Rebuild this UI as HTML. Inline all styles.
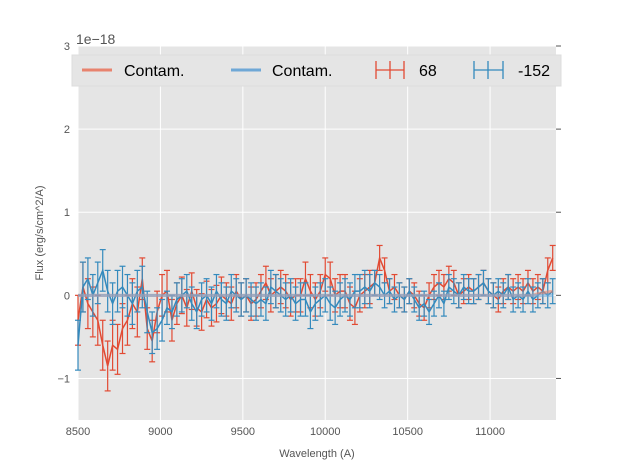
<!DOCTYPE html>
<html><head><meta charset="utf-8"><style>
body{margin:0;background:#fff;}
svg{display:block;font-family:"Liberation Sans",sans-serif;}
</style></head><body>
<svg id="chart" width="617" height="467">
<rect x="78" y="46" width="478" height="374" fill="#e5e5e5"/>
<g id="grid"></g><g id="ticks"></g><g id="series"></g>
<text x="76" y="44" font-size="14" fill="#555">1e−18</text>
<text x="317" y="457" font-size="11" fill="#555" text-anchor="middle">Wavelength (A)</text>
<text transform="translate(43,233) rotate(-90)" font-size="11" fill="#555" text-anchor="middle">Flux (erg/s/cm^2/A)</text>
<g>
<rect x="72" y="55" width="489" height="31" fill="#e5e5e5" stroke="#ddd"/>
<g><line x1="82" y1="70" x2="112" y2="70" stroke="#E8836E" stroke-width="3"/><text x="124" y="76" font-size="16" fill="#000">Contam.</text></g>
<g><line x1="231" y1="70" x2="261" y2="70" stroke="#6FA8D6" stroke-width="3"/><text x="272" y="76" font-size="16" fill="#000">Contam.</text></g>
<g stroke="#E24A33" stroke-width="1.3"><line x1="376" y1="70" x2="404" y2="70"/><line x1="390" y1="61" x2="390" y2="79"/><line x1="376" y1="61" x2="376" y2="79"/><line x1="404" y1="61" x2="404" y2="79"/><text x="419" y="76" font-size="16" fill="#000" stroke="none">68</text></g>
<g stroke="#348ABD" stroke-width="1.3"><line x1="474" y1="70" x2="503" y2="70"/><line x1="488" y1="61" x2="488" y2="79"/><line x1="474" y1="61" x2="474" y2="79"/><line x1="503" y1="61" x2="503" y2="79"/><text x="518" y="76" font-size="16" fill="#000" stroke="none">-152</text></g>
</g>
</svg>
<script>
const waves=[8500,8530,8560,8590,8620,8650,8680,8710,8740,8770,8800,8830,8860,8890,8920,8950,8980,9010,9040,9070,9100,9130,9160,9190,9220,9250,9280,9310,9340,9370,9400,9430,9460,9490,9520,9550,9580,9610,9640,9670,9700,9730,9760,9790,9820,9850,9880,9910,9940,9970,10000,10030,10060,10090,10120,10150,10180,10210,10240,10270,10300,10330,10360,10390,10420,10450,10480,10510,10540,10570,10600,10630,10660,10690,10720,10750,10780,10810,10840,10870,10900,10930,10960,10990,11020,11050,11080,11110,11140,11170,11200,11230,11260,11290,11320,11350,11380];
const red=[-0.3,0.1,-0.1,-0.2,-0.3,-0.6,-0.85,-0.6,-0.65,-0.4,-0.3,-0.1,-0.2,0.2,-0.4,-0.55,-0.2,0.0,0.05,-0.3,-0.1,0.0,-0.15,0.05,-0.15,-0.2,-0.05,-0.15,-0.1,0.0,-0.05,-0.1,0.05,-0.05,0.0,-0.1,-0.05,0.05,0.15,0.0,0.05,0.1,0.05,-0.05,0.0,0.0,0.2,0.05,-0.05,0.05,0.25,0.2,0.0,0.05,0.05,-0.1,-0.15,0.0,0.05,0.1,0.15,0.45,0.3,0.05,0.1,0.0,-0.05,0.05,0.0,-0.1,-0.15,0.0,0.1,0.15,0.1,0.2,0.15,0.0,0.05,0.1,0.05,0.1,0.15,0.05,0.0,-0.05,0.05,0.1,0.05,0.1,0.05,0.15,0.05,0.1,0.05,0.3,0.45];
const redErr=[0.3,0.3,0.3,0.3,0.3,0.3,0.3,0.3,0.3,0.3,0.3,0.3,0.3,0.25,0.25,0.25,0.25,0.25,0.25,0.25,0.25,0.22,0.22,0.22,0.22,0.22,0.22,0.22,0.22,0.22,0.2,0.2,0.2,0.2,0.2,0.2,0.2,0.2,0.2,0.2,0.2,0.2,0.2,0.2,0.2,0.2,0.2,0.2,0.2,0.2,0.2,0.2,0.2,0.2,0.2,0.2,0.2,0.2,0.2,0.2,0.15,0.15,0.15,0.15,0.15,0.15,0.15,0.15,0.15,0.15,0.15,0.15,0.15,0.15,0.15,0.15,0.15,0.15,0.15,0.15,0.15,0.15,0.15,0.15,0.15,0.15,0.15,0.15,0.15,0.15,0.15,0.15,0.15,0.15,0.15,0.15,0.15];
const blue=[-0.6,0.1,0.2,0.0,0.15,0.3,0.05,-0.1,0.05,0.1,0.0,-0.1,0.05,0.1,-0.2,-0.45,-0.4,-0.3,-0.15,-0.2,-0.05,0.0,0.05,-0.1,-0.2,-0.05,0.0,-0.1,0.05,-0.05,-0.1,0.05,0.0,-0.05,0.0,-0.05,-0.1,-0.05,-0.1,0.1,0.05,0.0,-0.05,0.0,-0.1,-0.05,-0.05,-0.2,-0.1,-0.05,0.0,-0.1,-0.15,-0.05,0.0,-0.05,0.05,0.05,0.1,0.05,0.15,0.1,0.0,0.05,-0.05,0.0,-0.05,0.05,-0.05,-0.15,-0.1,-0.2,-0.1,0.0,-0.1,0.1,0.05,0.0,0.1,0.05,0.05,0.1,0.15,0.05,0.0,0.05,0.0,0.1,-0.05,0.0,-0.05,0.05,-0.05,0.0,0.05,0.0,0.05];
const blueErr=[0.3,0.3,0.25,0.25,0.25,0.25,0.25,0.25,0.25,0.25,0.25,0.25,0.25,0.25,0.25,0.25,0.25,0.25,0.2,0.2,0.2,0.2,0.2,0.2,0.2,0.2,0.2,0.2,0.2,0.2,0.2,0.2,0.2,0.2,0.2,0.2,0.2,0.2,0.2,0.2,0.2,0.2,0.2,0.2,0.2,0.2,0.2,0.2,0.2,0.2,0.2,0.2,0.2,0.2,0.2,0.2,0.2,0.2,0.2,0.2,0.15,0.15,0.15,0.15,0.15,0.15,0.15,0.15,0.15,0.15,0.15,0.15,0.15,0.15,0.15,0.15,0.15,0.15,0.15,0.15,0.15,0.15,0.15,0.15,0.15,0.15,0.15,0.15,0.15,0.15,0.15,0.15,0.15,0.15,0.15,0.15,0.15];
const contamRed=[0,0,0,0,0,0,0,0,0,0,0,0,0,0,0,0,0,0,0,0,0,0,0,0,0,0,0,0,0,0,0,0,0,0,0,0,0,0,0,0,0,0,0,0,0,0,0,0,0,0,0,0,0,0,0,0,0,0,0,0,0,0,0,0,0,0,0,0,0,0,0,0,0,0,0,0,0,0,0,0,0,0,0,0,0,0,0,0,0,0,0,0,0,0.02,0.03,0.04,0.05];
const contamBlue=contamRed.map(()=>0);
const xTicks=[8500,9000,9500,10000,10500,11000];
const yTicks=[-1,0,1,2,3];
const NS='http://www.w3.org/2000/svg';
const X0=78,X1=556,Y0=46,Y1=420,xmin=8500,xmax=11400,ymin=-1.5,ymax=3;
const xs=v=>X0+(v-xmin)/(xmax-xmin)*(X1-X0);
const ys=v=>Y1-(v-ymin)/(ymax-ymin)*(Y1-Y0);
function mk(tag,attrs,parent){const e=document.createElementNS(NS,tag);for(const k in attrs)e.setAttribute(k,attrs[k]);parent.appendChild(e);return e;}
const grid=document.getElementById('grid'),ticks=document.getElementById('ticks'),ser=document.getElementById('series');
xTicks.forEach(t=>{const x=xs(t);
 const g=mk('line',{x1:x,x2:x,y1:Y0,y2:Y1,stroke:'#fff','stroke-width':1},grid);
 
 
 const l=mk('text',{x:x,y:Y1+15,'font-size':11,fill:'#555','text-anchor':'middle'},ticks);l.textContent=t;
 
 });
yTicks.forEach(t=>{const y=ys(t);
 const g=mk('line',{x1:X0,x2:X1,y1:y,y2:y,stroke:'#fff','stroke-width':1},grid);
 
 
 mk('line',{x1:X1,x2:X1+5,y1:y,y2:y,stroke:'#555'},ticks);
 const l=mk('text',{x:X0-8,y:y+4,'font-size':11,fill:'#555','text-anchor':'end'},ticks);l.textContent=t<0?'−'+(-t):t;
 
 });
function line(vals,color,w,op,name){const p=mk('polyline',{points:vals.map((v,i)=>xs(waves[i])+','+ys(v)).join(' '),fill:'none',stroke:color,'stroke-width':w,opacity:op},ser);
 
 }
function errs(vals,err,color,name){const g=mk('g',{stroke:color,'stroke-width':1.2},ser);
 
 
 vals.forEach((v,i)=>{const x=xs(waves[i]),a=ys(v+err[i]),b=ys(v-err[i]);
  mk('line',{x1:x,x2:x,y1:a,y2:b},g);mk('line',{x1:x-3,x2:x+3,y1:a,y2:a},g);mk('line',{x1:x-3,x2:x+3,y1:b,y2:b},g);});}
errs(red,redErr,'#E24A33','errorbars-68');
line(red,'#E24A33',1.5,1,'series-68');
errs(blue,blueErr,'#348ABD','errorbars-minus152');
line(blue,'#348ABD',1.5,1,'series-minus152');
line(contamRed,'#E8836E',3,0.6,'contam-line-red');
line(contamBlue,'#6FA8D6',3,0.6,'contam-line-blue');
</script>
</body></html>
